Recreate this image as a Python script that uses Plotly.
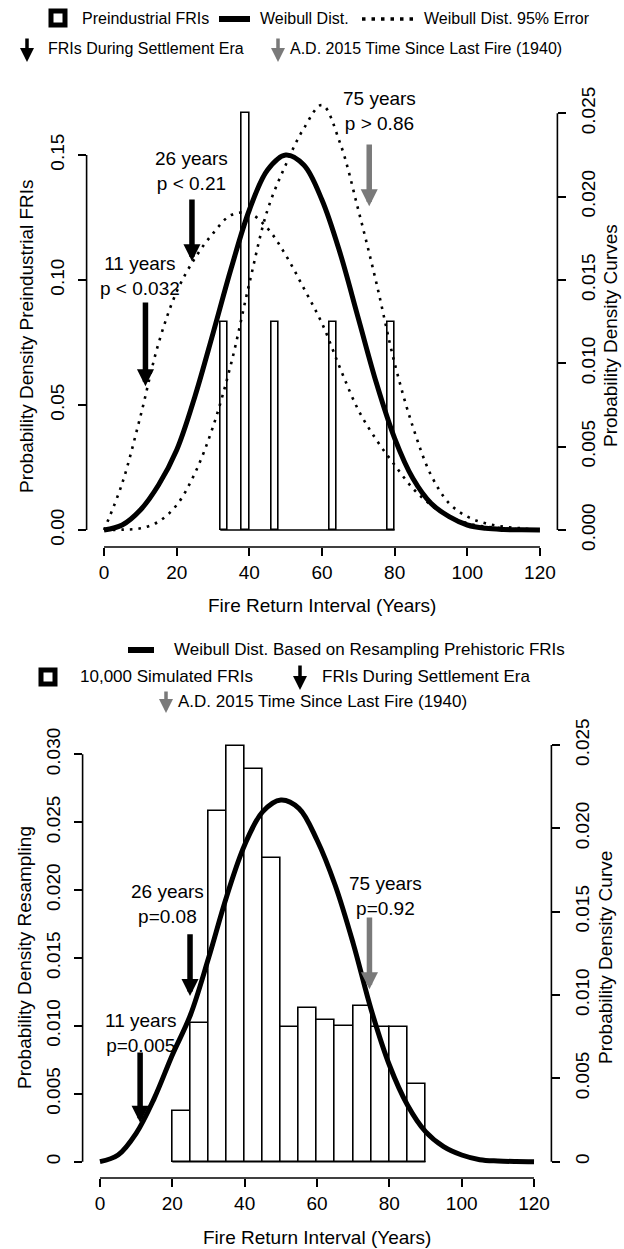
import plotly.graph_objects as go

W, H = 624, 1249
FONT = "Liberation Sans, Arial, Helvetica, sans-serif"

# ---------------- data: top panel ----------------
pre_bin_edges = [32, 34, 36, 38, 40, 42, 44, 46, 48, 50, 52, 54, 56, 58, 60,
                 62, 64, 66, 68, 70, 72, 74, 76, 78, 80]
pre_density = [0.0833, 0, 0, 0.1667, 0, 0, 0, 0.0833, 0, 0, 0, 0,
               0, 0, 0, 0.0833, 0, 0, 0, 0, 0, 0, 0, 0.0833]

curve_x = [0, 5, 10, 15, 20, 25, 30, 35, 40, 45, 50, 55, 60,
           65, 70, 75, 80, 85, 90, 95, 100, 105, 110, 115, 120]
weibull_top = [0.0, 0.0003, 0.0012, 0.0027, 0.0048, 0.0080, 0.0118, 0.0157,
               0.0192, 0.0216, 0.0225, 0.0219, 0.0198, 0.0166, 0.0127, 0.0088,
               0.0055, 0.0031, 0.0016, 0.0008, 0.0003, 0.0001, 0.00003, 0.00001, 0.0]
err_wide = [0.0, 0.0028, 0.0068, 0.0112, 0.0143, 0.0163, 0.0178, 0.0189,
            0.0190, 0.0181, 0.0165, 0.0145, 0.0124, 0.0097, 0.0072, 0.0054,
            0.0039, 0.0025, 0.0015, 0.0008, 0.0004, 0.0002, 0.0001, 0.00003, 0.0]
err_narrow = [0.0, 0.00002, 0.0001, 0.0005, 0.0015, 0.0034, 0.0062, 0.0100,
              0.0148, 0.0192, 0.0219, 0.0241, 0.0255, 0.0232, 0.0192, 0.0148,
              0.0100, 0.0062, 0.0033, 0.0016, 0.0008, 0.0004, 0.0002, 0.0001, 0.0]

top_arrow_x = [11.4, 24.2]
top_arrow_tip = [0.0575, 0.1075]
top_arrow_tail = [0.0916, 0.1328]
top_labels = ["11 years<br>p < 0.032", "26 years<br>p < 0.21"]
top_label_x = [10, 24]
top_label_y = [0.1016, 0.1435]
top_now_x = [73.0]
top_now_tip = [0.1295]
top_now_tail = [0.1548]
top_now_label = ["75 years<br>p > 0.86"]
top_now_label_x = [75.7]
top_now_label_y = [0.1675]

# ---------------- data: bottom panel ----------------
sim_bin_edges = [20, 25, 30, 35, 40, 45, 50, 55, 60, 65, 70, 75, 80, 85, 90]
sim_density = [0.0037, 0.0102, 0.0258, 0.0306, 0.0289, 0.0224, 0.0099,
               0.0113, 0.0104, 0.0100, 0.0115, 0.0099, 0.0099, 0.0057]
weibull_bottom = [0.0, 0.0004, 0.0017, 0.0038, 0.0064, 0.0088, 0.0122, 0.0159,
                  0.0190, 0.0210, 0.0217, 0.0212, 0.0193, 0.0166, 0.0131, 0.0091,
                  0.0058, 0.0034, 0.0018, 0.0009, 0.0004, 0.00012, 0.00004, 0.00001, 0.0]

bot_arrow_x = [11.1, 24.9]
bot_arrow_tip = [0.00287, 0.0122]
bot_arrow_tail = [0.00815, 0.01686]
bot_labels = ["11 years<br>p=0.005", "26 years<br>p=0.08"]
bot_label_x = [11.1, 18.8]
bot_label_y = [0.0095, 0.01895]
bot_now_x = [74.5]
bot_now_tip = [0.0127]
bot_now_tail = [0.0181]
bot_now_label = ["75 years<br>p=0.92"]
bot_now_label_x = [78.8]
bot_now_label_y = [0.01957]

# ---------------- ticks ----------------
x_ticks = [0, 20, 40, 60, 80, 100, 120]
top_left_ticks = [0, 0.05, 0.10, 0.15]
top_left_text = ["0.00", "0.05", "0.10", "0.15"]
top_right_ticks = [0, 0.005, 0.010, 0.015, 0.020, 0.025]
top_right_text = ["0.000", "0.005", "0.010", "0.015", "0.020", "0.025"]
bot_left_ticks = [0, 0.005, 0.010, 0.015, 0.020, 0.025, 0.030]
bot_left_text = ["0", "0.005", "0.010", "0.015", "0.020", "0.025", "0.030"]
bot_right_ticks = [0, 0.005, 0.010, 0.015, 0.020, 0.025]
bot_right_text = ["0", "0.005", "0.010", "0.015", "0.020", "0.025"]

# legend labels
top_legend_row1 = ["Preindustrial FRIs", "Weibull Dist.", "Weibull Dist. 95% Error"]
top_legend_row2 = ["FRIs During Settlement Era", "A.D. 2015 Time Since Last Fire (1940)"]
bot_legend = ["Weibull Dist. Based on Resampling Prehistoric FRIs", "10,000 Simulated FRIs",
              "FRIs During Settlement Era", "A.D. 2015 Time Since Last Fire (1940)"]

BLACK = "#000000"
GRAY = "#7a7a7a"


def px(X):
    return X / W


def py(Y):
    return 1 - Y / H


# domains (pixel geometry of the R plot regions)
top_xd = [px(86.6), px(557.4)]
top_yd = [py(547), py(88)]
bot_xd = [px(82.6), px(551.4)]
bot_yd = [py(1178), py(738)]

fig = go.Figure()


def add_hist(edges, dens, xa, ya):
    centers = [(edges[i] + edges[i + 1]) / 2 for i in range(len(dens))]
    widths = [edges[i + 1] - edges[i] for i in range(len(dens))]
    fig.add_trace(go.Scatter(x=[edges[0], edges[-1]], y=[0, 0], mode="lines",
                             line=dict(color=BLACK, width=1.5), xaxis=xa, yaxis=ya,
                             showlegend=False, hoverinfo="skip"))
    fig.add_trace(go.Bar(x=[c for c, d in zip(centers, dens) if d > 0],
                         y=[d for d in dens if d > 0],
                         width=[w for w, d in zip(widths, dens) if d > 0],
                         marker=dict(color="white", line=dict(color=BLACK, width=1.6)),
                         xaxis=xa, yaxis=ya, showlegend=False))


add_hist(pre_bin_edges, pre_density, "x", "y")
DOT = "2.6px,6px"
fig.add_trace(go.Scatter(x=curve_x, y=err_wide, mode="lines", line=dict(color=BLACK, width=2.6, dash=DOT, shape="spline", smoothing=1.0),
                         xaxis="x", yaxis="y2", showlegend=False))
fig.add_trace(go.Scatter(x=curve_x, y=err_narrow, mode="lines", line=dict(color=BLACK, width=2.6, dash=DOT, shape="spline", smoothing=1.0),
                         xaxis="x", yaxis="y2", showlegend=False))
fig.add_trace(go.Scatter(x=curve_x, y=weibull_top, mode="lines", line=dict(color=BLACK, width=5, shape="spline", smoothing=1.0),
                         xaxis="x", yaxis="y2", showlegend=False))

add_hist(sim_bin_edges, sim_density, "x2", "y3")
fig.add_trace(go.Scatter(x=curve_x, y=weibull_bottom, mode="lines", line=dict(color=BLACK, width=5, shape="spline", smoothing=1.0),
                         xaxis="x2", yaxis="y4", showlegend=False))

tickfont = dict(family=FONT, size=19, color=BLACK)
common = dict(showgrid=False, zeroline=False, showline=False, ticks="outside", ticklen=8,
              tickwidth=1.6, tickcolor=BLACK, tickfont=tickfont, automargin=False, fixedrange=True)

fig.update_layout(
    width=W, height=H, margin=dict(l=0, r=0, t=0, b=0),
    paper_bgcolor="white", plot_bgcolor="white", showlegend=False,
    bargap=0,
    xaxis=dict(domain=top_xd, range=[-4.8, 124.8], anchor="y", tickvals=x_ticks, **common),
    yaxis=dict(domain=top_yd, range=[-0.0068, 0.1768], anchor="x", tickvals=top_left_ticks,
               ticktext=top_left_text, tickangle=-90, ticklabelstandoff=6, **common),
    yaxis2=dict(domain=top_yd, range=[-0.00102, 0.02652], anchor="x", overlaying="y", side="right",
                tickvals=top_right_ticks, ticktext=top_right_text, tickangle=-90, ticklabelstandoff=6, **common),
    xaxis2=dict(domain=bot_xd, range=[-4.8, 124.8], anchor="y3", tickvals=x_ticks, **common),
    yaxis3=dict(domain=bot_yd, range=[-0.0012, 0.0312], anchor="x2", tickvals=bot_left_ticks,
                ticktext=bot_left_text, tickangle=-90, ticklabelstandoff=6, **common),
    yaxis4=dict(domain=bot_yd, range=[-0.00098, 0.02542], anchor="x2", overlaying="y3", side="right",
                tickvals=bot_right_ticks, ticktext=bot_right_text, tickangle=-90, ticklabelstandoff=6, **common),
)

shapes = []
ann = []
AX_W = 1.6

# axis lines spanning first to last tick (R style)
shapes.append(dict(type="line", xref="x", yref="paper", x0=x_ticks[0], x1=x_ticks[-1], y0=top_yd[0], y1=top_yd[0], line=dict(color=BLACK, width=AX_W)))
shapes.append(dict(type="line", xref="paper", yref="y", x0=top_xd[0], x1=top_xd[0], y0=top_left_ticks[0], y1=top_left_ticks[-1], line=dict(color=BLACK, width=AX_W)))
shapes.append(dict(type="line", xref="paper", yref="y2", x0=top_xd[1], x1=top_xd[1], y0=top_right_ticks[0], y1=top_right_ticks[-1], line=dict(color=BLACK, width=AX_W)))
shapes.append(dict(type="line", xref="x2", yref="paper", x0=x_ticks[0], x1=x_ticks[-1], y0=bot_yd[0], y1=bot_yd[0], line=dict(color=BLACK, width=AX_W)))
shapes.append(dict(type="line", xref="paper", yref="y3", x0=bot_xd[0], x1=bot_xd[0], y0=bot_left_ticks[0], y1=bot_left_ticks[-1], line=dict(color=BLACK, width=AX_W)))
shapes.append(dict(type="line", xref="paper", yref="y4", x0=bot_xd[1], x1=bot_xd[1], y0=bot_right_ticks[0], y1=bot_right_ticks[-1], line=dict(color=BLACK, width=AX_W)))

lab_font = dict(family=FONT, size=19, color=BLACK)


def arrow(xr, yr, x, tip, tail, color):
    ann.append(dict(xref=xr, yref=yr, axref=xr, ayref=yr, x=x, y=tip, ax=x, ay=tail, text="",
                    showarrow=True, arrowhead=2, arrowsize=0.62, arrowwidth=5.5, arrowcolor=color, standoff=0))


def label(xr, yr, x, y, t):
    ann.append(dict(xref=xr, yref=yr, x=x, y=y, text=t, showarrow=False, font=lab_font,
                    xanchor="center", yanchor="middle"))


for i in range(len(top_arrow_x)):
    arrow("x", "y", top_arrow_x[i], top_arrow_tip[i], top_arrow_tail[i], BLACK)
    label("x", "y", top_label_x[i], top_label_y[i], top_labels[i])
for i in range(len(top_now_x)):
    arrow("x", "y", top_now_x[i], top_now_tip[i], top_now_tail[i], GRAY)
    label("x", "y", top_now_label_x[i], top_now_label_y[i], top_now_label[i])
for i in range(len(bot_arrow_x)):
    arrow("x2", "y3", bot_arrow_x[i], bot_arrow_tip[i], bot_arrow_tail[i], BLACK)
    label("x2", "y3", bot_label_x[i], bot_label_y[i], bot_labels[i])
for i in range(len(bot_now_x)):
    arrow("x2", "y3", bot_now_x[i], bot_now_tip[i], bot_now_tail[i], GRAY)
    label("x2", "y3", bot_now_label_x[i], bot_now_label_y[i], bot_now_label[i])

# axis titles
title_font = dict(family=FONT, size=19, color=BLACK)


def title(X, Y, t, angle=0):
    ann.append(dict(xref="paper", yref="paper", x=px(X), y=py(Y), text=t, textangle=angle,
                    xanchor="center", yanchor="middle", showarrow=False, font=title_font))


title(26, 336, "Probability Density Preindustrial FRIs", -90)
title(610, 336, "Probability Density Curves", -90)
title(322, 605, "Fire Return Interval (Years)")
title(24, 958, "Probability Density Resampling", -90)
title(605, 958, "Probability Density Curve", -90)
title(317, 1237, "Fire Return Interval (Years)")

# legends
def leg_text(X, Y, t, size):
    ann.append(dict(xref="paper", yref="paper", x=px(X), y=py(Y), text=t, xanchor="left", yanchor="middle",
                    showarrow=False, font=dict(family=FONT, size=size, color=BLACK)))


def leg_square(X0, Y0, s):
    shapes.append(dict(type="rect", xref="paper", yref="paper", x0=px(X0), x1=px(X0 + s), y0=py(Y0), y1=py(Y0 + s),
                       line=dict(color=BLACK, width=5), fillcolor="white"))


def leg_bar(X0, X1, Y):
    shapes.append(dict(type="rect", xref="paper", yref="paper", x0=px(X0), x1=px(X1), y0=py(Y - 3), y1=py(Y + 3),
                       line=dict(width=0), fillcolor=BLACK))


def leg_arrow(X, Y0, Y1, color):
    ann.append(dict(xref="paper", yref="paper", x=px(X), y=py(Y1), ax=0, ay=-(Y1 - Y0), text="",
                    showarrow=True, arrowhead=2, arrowsize=0.8, arrowwidth=3.5, arrowcolor=color, standoff=0))


# top legend
leg_square(51, 11, 14)
leg_text(80, 18, top_legend_row1[0], 16)
leg_bar(219, 250, 19)
leg_text(258, 18, top_legend_row1[1], 16)
shapes.append(dict(type="line", xref="paper", yref="paper", x0=px(362), x1=px(416), y0=py(19), y1=py(19),
                   line=dict(color=BLACK, width=3.5, dash="3.5px,6px")))
leg_text(422, 18, top_legend_row1[2], 16)
leg_arrow(27, 37, 62, BLACK)
leg_text(46, 49, top_legend_row2[0], 16)
leg_arrow(278, 37, 62, GRAY)
leg_text(288, 49, top_legend_row2[1], 16)

# bottom legend
leg_bar(128, 154, 650)
leg_text(172, 649, bot_legend[0], 17)
leg_square(41, 670, 14)
leg_text(78, 676, bot_legend[1], 17)
leg_arrow(300, 664, 690, BLACK)
leg_text(320, 676, bot_legend[2], 17)
leg_arrow(166, 690, 713, GRAY)
leg_text(176, 701, bot_legend[3], 17)

fig.update_layout(shapes=shapes, annotations=ann)
fig.write_html("out.html")
